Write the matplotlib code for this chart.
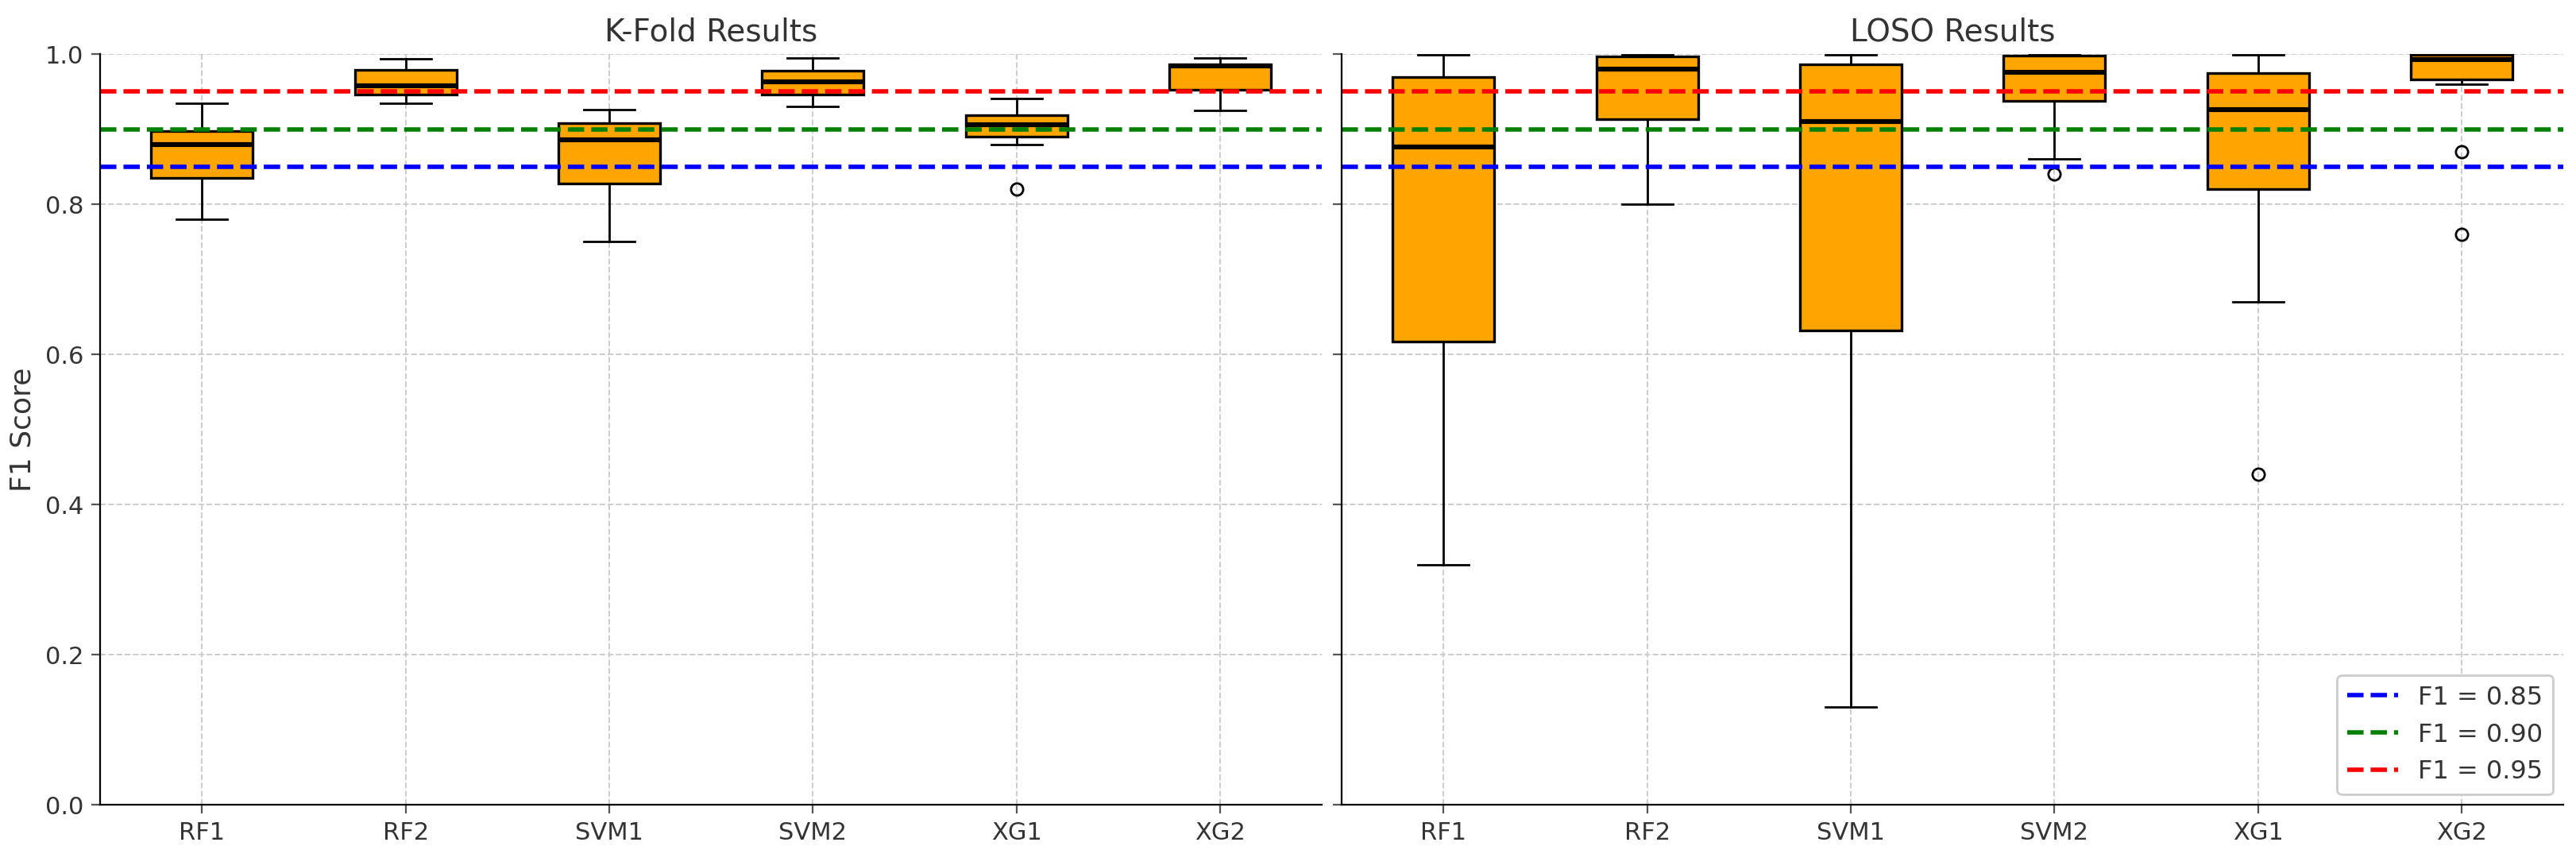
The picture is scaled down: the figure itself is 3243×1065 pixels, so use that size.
import matplotlib
matplotlib.use("Agg")
import matplotlib.pyplot as plt

# model names
models = ["RF1", "RF2", "SVM1", "SVM2", "XG1", "XG2"]

# K-Fold box statistics
kf_whislo = [0.780, 0.935, 0.750, 0.930, 0.880, 0.925]
kf_q1 = [0.835, 0.946, 0.828, 0.946, 0.890, 0.953]
kf_med = [0.880, 0.958, 0.886, 0.963, 0.906, 0.984]
kf_q3 = [0.897, 0.979, 0.908, 0.978, 0.919, 0.986]
kf_whishi = [0.935, 0.994, 0.926, 0.995, 0.941, 0.995]
kf_fliers = [[], [], [], [], [0.82], []]

# LOSO box statistics
lo_whislo = [0.320, 0.800, 0.130, 0.860, 0.670, 0.960]
lo_q1 = [0.617, 0.913, 0.632, 0.938, 0.820, 0.966]
lo_med = [0.876, 0.980, 0.910, 0.976, 0.926, 0.993]
lo_q3 = [0.970, 0.997, 0.986, 0.998, 0.975, 0.999]
lo_whishi = [0.999, 0.999, 0.999, 0.999, 0.999, 0.999]
lo_fliers = [[], [], [], [0.84], [0.44], [0.87, 0.76]]

thresholds = [0.85, 0.90, 0.95]
threshold_colors = ["blue", "green", "red"]

TEXT = "#333333"


def make_stats(whislo, q1, med, q3, whishi, fliers):
    stats = []
    for i, name in enumerate(models):
        stats.append({"label": name, "whislo": whislo[i], "q1": q1[i], "med": med[i],
                      "q3": q3[i], "whishi": whishi[i], "fliers": fliers[i]})
    return stats


def draw_panel(ax, stats, title, legend=False):
    ax.grid(True, linestyle="--", color="#cccccc", linewidth=0.7, zorder=0)
    ax.set_axisbelow(True)
    ax.bxp(stats, widths=0.5, patch_artist=True,
           boxprops=dict(facecolor="orange", edgecolor="black", linewidth=1.2),
           medianprops=dict(color="black", linewidth=2.2),
           whiskerprops=dict(color="black", linewidth=1.0),
           capprops=dict(color="black", linewidth=1.0),
           flierprops=dict(marker="o", markerfacecolor="none", markeredgecolor="black",
                           markersize=5.5, markeredgewidth=1.0))
    for t, c in zip(thresholds, threshold_colors):
        ax.axhline(t, color=c, linestyle="--", linewidth=2, label=f"F1 = {t:.2f}")
    ax.set_title(title, fontsize=14, color=TEXT)
    ax.set_ylim(0, 1.0)
    ax.set_xlim(0.5, 6.5)
    ax.spines["top"].set_visible(False)
    ax.spines["right"].set_visible(False)
    ax.tick_params(labelsize=11, colors=TEXT, length=4, color="#555555")
    if legend:
        leg = ax.legend(loc="lower right", fontsize=11.5, framealpha=1.0, edgecolor="#cccccc",
                        borderaxespad=0.4)
        for txt in leg.get_texts():
            txt.set_color(TEXT)


fig, (ax1, ax2) = plt.subplots(1, 2, figsize=(16.215, 5.325), dpi=200, sharey=True)
fig.subplots_adjust(left=0.0389, right=0.9951, top=0.936, bottom=0.0488, wspace=0.0163)

draw_panel(ax1, make_stats(kf_whislo, kf_q1, kf_med, kf_q3, kf_whishi, kf_fliers), "K-Fold Results")
draw_panel(ax2, make_stats(lo_whislo, lo_q1, lo_med, lo_q3, lo_whishi, lo_fliers), "LOSO Results", legend=True)
ax1.set_ylabel("F1 Score", fontsize=13, color=TEXT)

fig.savefig("out.png", dpi=200)
